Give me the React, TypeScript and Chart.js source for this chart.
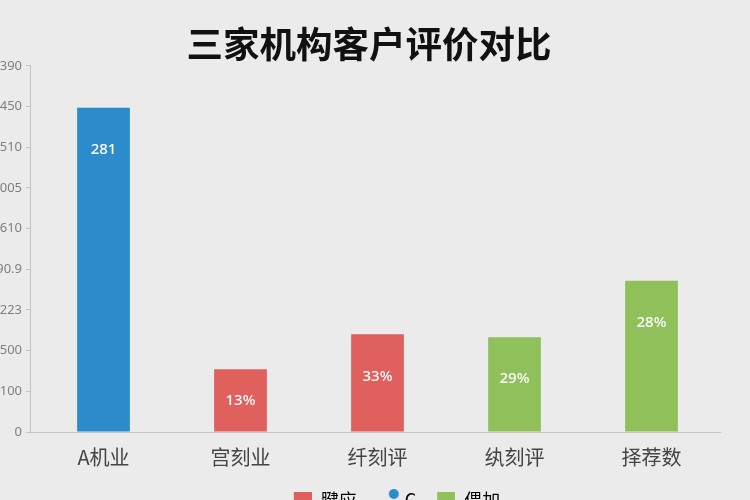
import React, { useEffect, useRef } from "react";
import { Chart, registerables } from "chart.js";

Chart.register(...registerables);

const titleText = "三家机构客户评价对比";
const categories = ["A机业", "宫刻业", "纤刻评", "纨刻评", "择荐数"];
const seriesRed = [null, 154, 240, null, null];
const seriesBlue = [797, null, null, null, null];
const seriesGreen = [null, null, null, 233, 372];
const barLabels = ["281", "13%", "33%", "29%", "28%"];
const yTickLabels = ["0", "100", "500", "223", "90.9", "610", "1005", "510", "450", "390"];
const legendLabels = ["腱应", "C", "偎加"];

const RED = "#e0605e";
const BLUE = "#2b8bcb";
const GREEN = "#8fc05a";

function makeIcon(kind: string, color: string): HTMLCanvasElement {
  const c = document.createElement("canvas");
  if (kind === "dot") {
    c.width = 60;
    c.height = 24;
    const ctx = c.getContext("2d")!;
    ctx.fillStyle = color;
    ctx.beginPath();
    ctx.arc(43, 6, 5, 0, Math.PI * 2);
    ctx.fill();
  } else {
    c.width = 30;
    c.height = 16;
    const ctx = c.getContext("2d")!;
    ctx.fillStyle = color;
    ctx.fillRect(12, 0, 18, 16);
  }
  return c;
}

const barLabelPlugin = {
  id: "barLabelPlugin",
  afterLayout(chart: any) {
    // the category band starts a few pixels right of the y axis line
    const x = chart.scales.x;
    x._startPixel = x.left + 5;
    x._length = x._endPixel - x._startPixel;
    // legend row sits a little right of centre
    if (chart.legend) {
      chart.legend.left += 22;
      chart.legend.right += 22;
    }
  },
  afterDatasetsDraw(chart: any) {
    const ctx = chart.ctx;
    ctx.save();
    ctx.fillStyle = "#ffffff";
    ctx.font = "500 15px 'Noto Sans', 'DejaVu Sans', sans-serif";
    ctx.textAlign = "center";
    ctx.textBaseline = "middle";
    chart.data.datasets.forEach((ds: any, di: number) => {
      const meta = chart.getDatasetMeta(di);
      meta.data.forEach((el: any, i: number) => {
        if (ds.data[i] == null) return;
        const y = Math.min(el.y + 42, (el.y + el.base) / 2);
        ctx.fillText(barLabels[i], el.x, y);
      });
    });
    ctx.restore();
  },
};

export default function App() {
  const ref = useRef<HTMLCanvasElement>(null);
  useEffect(() => {
    if (!ref.current) return;
    const icons = [makeIcon("rect", RED), makeIcon("dot", BLUE), makeIcon("rect", GREEN)];
    const colors = [RED, BLUE, GREEN];
    const chart = new Chart(ref.current, {
      type: "bar",
      data: {
        labels: categories,
        datasets: [
          { label: legendLabels[0], data: seriesRed, backgroundColor: RED },
          { label: legendLabels[1], data: seriesBlue, backgroundColor: BLUE },
          { label: legendLabels[2], data: seriesGreen, backgroundColor: GREEN },
        ],
      },
      options: {
        animation: false,
        responsive: true,
        maintainAspectRatio: false,
        layout: { padding: { left: 0, right: 12, top: 0, bottom: 0 } },
        datasets: { bar: { grouped: false, barPercentage: 0.385, categoryPercentage: 1 } },
        plugins: {
          title: {
            display: true,
            text: titleText,
            color: "#111111",
            font: { family: "'Noto Sans CJK SC', sans-serif", size: 36.5, weight: "bold", lineHeight: 1.2 },
            padding: { top: 22, bottom: 0 },
          },
          legend: {
            display: true,
            position: "bottom",
            labels: {
              usePointStyle: true,
              pointStyleWidth: 30,
              color: "#555555",
              font: { family: "'Noto Sans CJK SC', sans-serif", size: 18 },
              padding: 9,
              generateLabels: () =>
                legendLabels.map((t, i) => ({
                  text: t,
                  fillStyle: colors[i],
                  strokeStyle: colors[i],
                  lineWidth: 0,
                  pointStyle: icons[i],
                  hidden: false,
                  datasetIndex: i,
                })),
            },
          },
          tooltip: { enabled: false },
        },
        scales: {
          x: {
            grid: { display: false, drawTicks: false },
            border: { display: true, color: "#c4c4c4", width: 1 },
            ticks: {
              color: "#444444",
              padding: 17,
              font: { family: "'Noto Sans CJK SC', sans-serif", size: 20, lineHeight: 0.8 },
            },
          },
          y: {
            min: 0,
            max: 900,
            afterFit: (scale: any) => {
              scale.width = 30;
            },
            grid: { drawOnChartArea: false, drawTicks: true, tickLength: 4, color: "#c4c4c4" },
            border: { display: true, color: "#c4c4c4", width: 1 },
            ticks: {
              stepSize: 100,
              color: "#808080",
              padding: 4,
              font: { family: "'Noto Sans', sans-serif", size: 13 },
              callback: (_v: any, i: number) => yTickLabels[i],
            },
          },
          yRight: {
            type: "linear",
            position: "right",
            display: true,
            afterFit: (scale: any) => {
              scale.width = 18;
            },
            grid: { display: false, drawTicks: false },
            border: { display: false },
            ticks: { display: false },
          },
        },
      },
      plugins: [barLabelPlugin],
    });
    return () => chart.destroy();
  }, []);

  return (
    <div
      style={{
        position: "absolute",
        left: 0,
        top: 0,
        width: 750,
        height: 500,
        overflow: "hidden",
        background: "#ebebeb",
      }}
    >
      <div style={{ position: "relative", width: 750, height: 519 }}>
        <canvas ref={ref} />
      </div>
    </div>
  );
}
